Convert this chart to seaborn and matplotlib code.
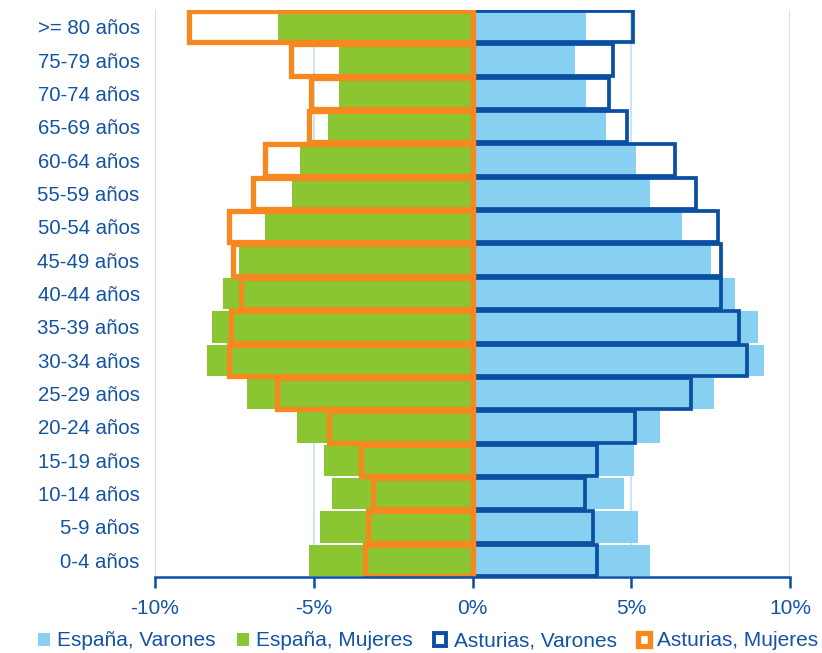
import numpy as np
import pandas as pd
import matplotlib
matplotlib.use("Agg")
import matplotlib.pyplot as plt
from matplotlib.patches import Patch
import seaborn as sns

# Age groups, top to bottom
grupos = [">= 80 años", "75-79 años", "70-74 años", "65-69 años", "60-64 años",
          "55-59 años", "50-54 años", "45-49 años", "40-44 años", "35-39 años",
          "30-34 años", "25-29 años", "20-24 años", "15-19 años", "10-14 años",
          "5-9 años", "0-4 años"]

# Share of total population (%), women as negative values
espana_varones = [3.56, 3.24, 3.56, 4.19, 5.14, 5.59, 6.60, 7.52, 8.28, 8.99,
                  9.19, 7.61, 5.90, 5.08, 4.76, 5.21, 5.59]
espana_mujeres = [-6.14, -4.19, -4.19, -4.56, -5.42, -5.70, -6.52, -7.34, -7.85, -8.22,
                  -8.35, -7.09, -5.54, -4.69, -4.41, -4.79, -5.16]
asturias_varones = [5.06, 4.42, 4.29, 4.87, 6.39, 7.03, 7.72, 7.84, 7.82, 8.40,
                    8.66, 6.89, 5.12, 3.93, 3.55, 3.79, 3.93]
asturias_mujeres = [-8.92, -5.71, -5.08, -5.15, -6.53, -6.91, -7.66, -7.54, -7.29, -7.60,
                    -7.66, -6.15, -4.52, -3.51, -3.14, -3.30, -3.38]

xticks = [-10, -5, 0, 5, 10]
xtick_labels = ["-10%", "-5%", "0%", "5%", "10%"]

series_labels = ["España, Varones", "España, Mujeres", "Asturias, Varones", "Asturias, Mujeres"]

df = pd.DataFrame({
    "grupo": grupos,
    "esp_v": espana_varones,
    "esp_m": espana_mujeres,
    "ast_v": asturias_varones,
    "ast_m": asturias_mujeres,
})

C_LIGHT = "#88d0f1"
C_GREEN = "#89c631"
C_NAVY = "#0b4fa3"
C_ORANGE = "#f5891f"
C_TEXT = "#1353a3"
C_GRID = "#c4e4f4"

sns.set_style("white")
plt.rcParams["font.family"] = ["Liberation Sans", "DejaVu Sans"]

fig = plt.figure(figsize=(8.22, 6.53), dpi=100)
ax = fig.add_axes([155 / 822, 1 - 577 / 653, (790 - 155) / 822, (577 - 10) / 653])

bw = 0.94
sns.barplot(data=df, x="esp_v", y="grupo", order=grupos, orient="h", color=C_LIGHT,
            width=bw, linewidth=0, errorbar=None, saturation=1, ax=ax, zorder=2)
sns.barplot(data=df, x="esp_m", y="grupo", order=grupos, orient="h", color=C_GREEN,
            width=bw, linewidth=0, errorbar=None, saturation=1, ax=ax, zorder=2)
sns.barplot(data=df, x="ast_v", y="grupo", order=grupos, orient="h", color=C_NAVY,
            width=bw, fill=False, linewidth=2.7, errorbar=None, saturation=1, ax=ax, zorder=3)
sns.barplot(data=df, x="ast_m", y="grupo", order=grupos, orient="h", color=C_ORANGE,
            width=bw, fill=False, linewidth=3.8, errorbar=None, saturation=1, ax=ax, zorder=3)

ax.set_xlim(-10, 10)
ax.set_ylim(len(grupos) - 0.5, -0.5)
ax.set_xlabel("")
ax.set_ylabel("")

ax.set_xticks(xticks)
ax.set_xticklabels(xtick_labels)
ax.xaxis.grid(True, color=C_GRID, linewidth=1.3)
ax.yaxis.grid(False)
ax.set_axisbelow(True)

for side in ("left", "top", "right"):
    ax.spines[side].set_visible(False)
ax.spines["bottom"].set_color(C_NAVY)
ax.spines["bottom"].set_linewidth(1.8)
ax.spines["bottom"].set_zorder(4)

ax.tick_params(axis="x", direction="out", length=8, width=1.8, color=C_NAVY,
               labelcolor=C_TEXT, labelsize=15, pad=8, bottom=True)
ax.tick_params(axis="y", length=0, labelcolor=C_TEXT, labelsize=14.7, pad=11)

handles = [
    Patch(facecolor=C_LIGHT, edgecolor="none"),
    Patch(facecolor=C_GREEN, edgecolor="none"),
    Patch(facecolor="white", edgecolor=C_NAVY, linewidth=2.8),
    Patch(facecolor="white", edgecolor=C_ORANGE, linewidth=3.8),
]
fig.legend(handles, series_labels, loc="center", bbox_to_anchor=(428 / 822, 1 - 641 / 653),
           ncol=4, frameon=False, fontsize=15, labelcolor=C_TEXT,
           handlelength=0.6, handleheight=0.6, handletextpad=0.35, columnspacing=1.0,
           borderaxespad=0, borderpad=0)

fig.savefig("out.png", dpi=100)
